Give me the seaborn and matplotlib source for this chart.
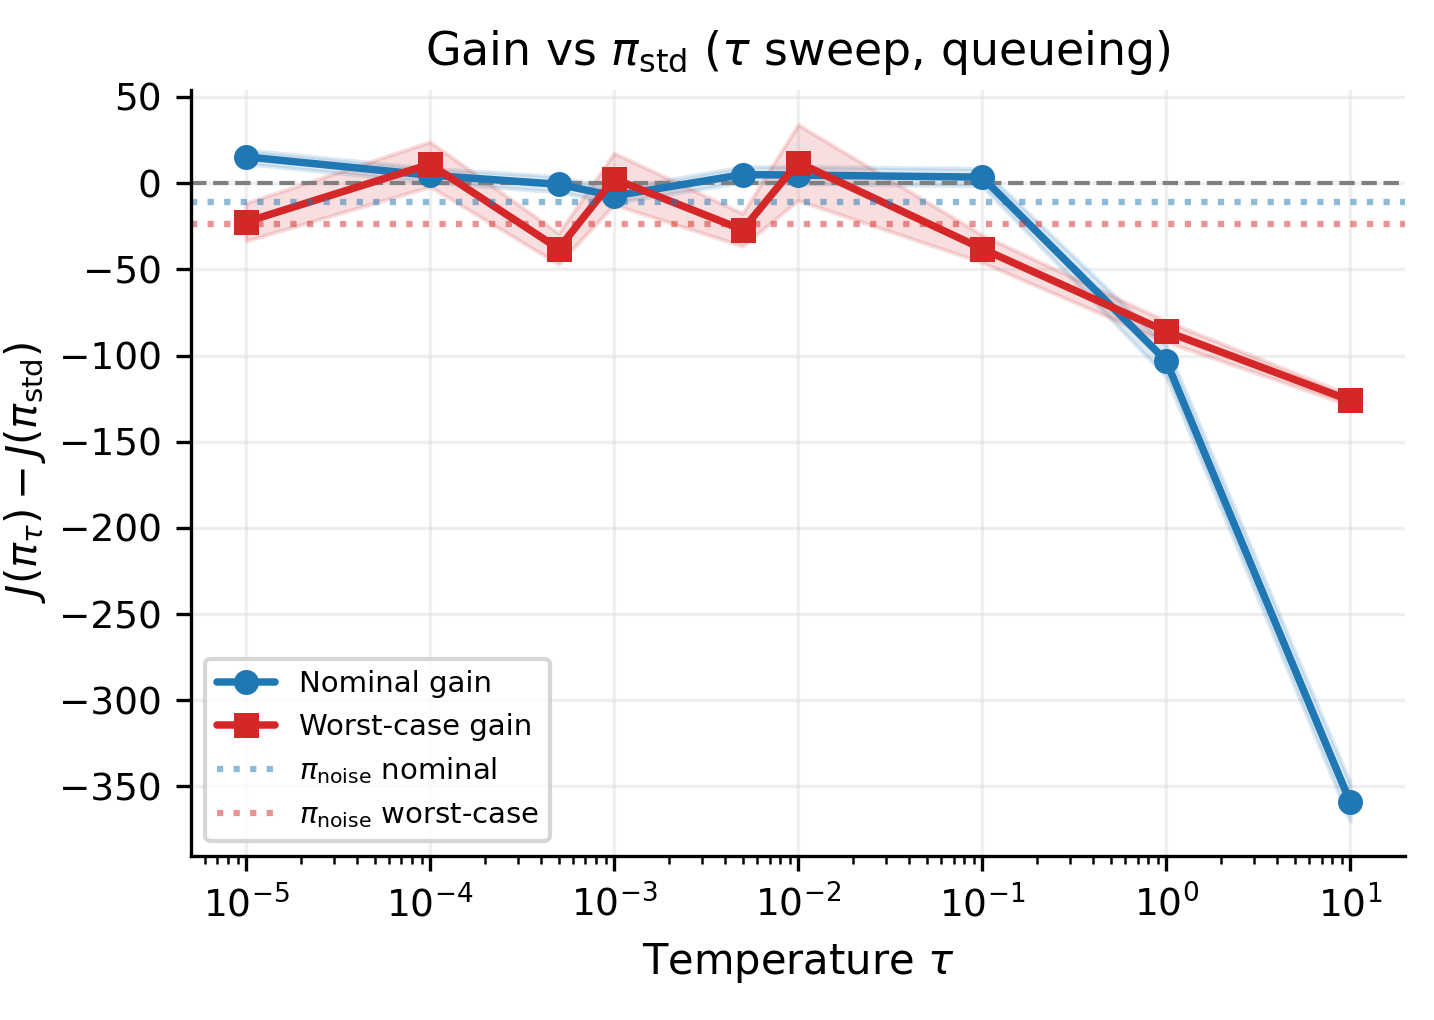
import numpy as np
import pandas as pd
import seaborn as sns
from matplotlib import pyplot as plt

# temperature sweep
taus = [1e-5, 1e-4, 5e-4, 1e-3, 5e-3, 1e-2, 1e-1, 1e0, 1e1]

# gain over pi_std, mean and half-width of band
nominal_gain = [15.3, 4.6, -0.6, -7.4, 5.0, 4.7, 3.5, -103.0, -359.0]
nominal_err = [4.0, 4.0, 4.5, 4.0, 4.5, 5.0, 5.0, 9.0, 11.0]
worst_gain = [-22.5, 11.0, -38.0, 2.5, -27.0, 12.0, -38.0, -86.0, -126.0]
worst_err = [11.0, 13.0, 9.0, 15.0, 9.5, 22.0, 8.0, 6.0, 3.0]

# pi_noise reference levels
noise_nominal = -11.0
noise_worst = -23.5

df = pd.DataFrame({
    'tau': taus * 2,
    'gain': nominal_gain + worst_gain,
    'err': nominal_err + worst_err,
    'kind': ['Nominal gain'] * len(taus) + ['Worst-case gain'] * len(taus),
})

sns.set_style('ticks', {'axes.edgecolor': 'black', 'text.color': 'black',
                        'axes.labelcolor': 'black', 'xtick.color': 'black',
                        'ytick.color': 'black'})
plt.rcParams['font.family'] = ['DejaVu Sans']
plt.rcParams['mathtext.fontset'] = 'dejavusans'

fig, ax = plt.subplots(figsize=(4.78, 3.4), dpi=300)
fig.subplots_adjust(left=0.133, right=0.98, bottom=0.161, top=0.912)

blue = '#1f77b4'
red = '#d62728'
styles = {'Nominal gain': (blue, 'o'), 'Worst-case gain': (red, 's')}

for kind, sub in df.groupby('kind', sort=False):
    color, marker = styles[kind]
    ax.fill_between(sub['tau'], sub['gain'] - sub['err'], sub['gain'] + sub['err'],
                    color=color, alpha=0.15, linewidth=1.0)
    sns.lineplot(data=sub, x='tau', y='gain', ax=ax, color=color, marker=marker,
                 markersize=6, linewidth=1.8, markeredgewidth=0, label=kind)

ax.axhline(0, color='gray', linestyle='--', linewidth=1.0, zorder=1)
ax.axhline(noise_nominal, color=blue, linestyle=':', linewidth=1.5, alpha=0.5,
           label=r'$\pi_{\rm noise}$ nominal')
ax.axhline(noise_worst, color=red, linestyle=':', linewidth=1.5, alpha=0.5,
           label=r'$\pi_{\rm noise}$ worst-case')

ax.set_xscale('log')
ax.grid(True, alpha=0.3)
ax.set_title(r'Gain vs $\pi_{\rm std}$ ($\tau$ sweep, queueing)', fontsize=11)
ax.set_xlabel(r'Temperature $\tau$', fontsize=10)
ax.set_ylabel(r'$J(\pi_\tau) - J(\pi_{\rm std})$', fontsize=10, labelpad=2.5)
ax.tick_params(labelsize=9)
sns.despine(ax=ax)
ax.legend(loc='lower left', fontsize=7)

fig.savefig('out.png', dpi=300)
